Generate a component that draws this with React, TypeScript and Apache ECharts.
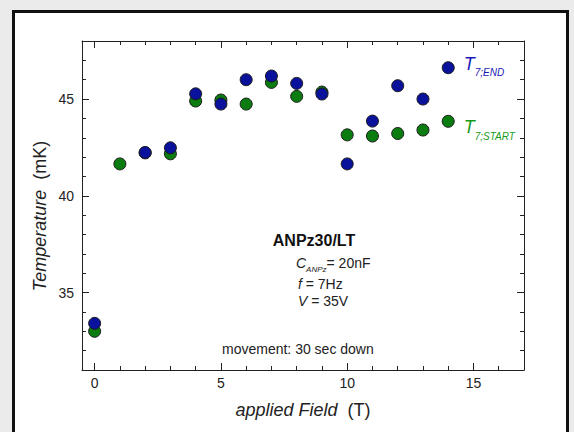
import React, { useEffect, useRef } from "react";
import * as echarts from "echarts";

// ---- data ----
const fieldsStart = [0, 1, 2, 3, 4, 5, 6, 7, 8, 9, 10, 11, 12, 13, 14];
const tStart = [33.0, 41.65, 42.22, 42.17, 44.9, 44.95, 44.74, 45.86, 45.14, 45.36, 43.15, 43.09, 43.22, 43.4, 43.85];
const fieldsEnd = [0, 2, 3, 4, 5, 6, 7, 8, 9, 10, 11, 12, 13, 14];
const tEnd = [33.41, 42.24, 42.48, 45.27, 44.74, 46.0, 46.19, 45.81, 45.26, 41.65, 43.86, 45.69, 45.0, 46.62];

const xMajor = [0, 5, 10, 15];
const xTickLabels = ["0", "5", "10", "15"];
const xMinor = [0, 1, 2, 3, 4, 5, 6, 7, 8, 9, 10, 11, 12, 13, 14, 15, 16];
const yMajor = [35, 40, 45];
const yTickLabels = ["35", "40", "45"];
const yMinor = [32, 33, 34, 35, 36, 37, 38, 39, 40, 41, 42, 43, 44, 45, 46, 47];

const FONT = "Liberation Sans, Arial, sans-serif";
const BLUE = "#0a129c";
const GREEN = "#0b7d10";
const BLUE_TXT = "#1a1ab8";
const GREEN_TXT = "#169a1a";
const AX = "#222";

function xAxisDef(position: string, ticks: number[], len: number, showLine: boolean, labels: boolean) {
  return {
    type: "value",
    position,
    min: -0.5,
    max: 17,
    axisLine: { show: showLine, onZero: false, lineStyle: { color: AX, width: 1 } },
    axisTick: { show: true, inside: true, length: len, customValues: ticks, lineStyle: { color: AX, width: 1 } },
    axisLabel: labels
      ? {
          show: true,
          customValues: xMajor,
          margin: 6,
          fontSize: 14,
          fontFamily: FONT,
          color: AX,
          formatter: (v: number) => xTickLabels[xMajor.indexOf(v)] ?? "",
        }
      : { show: false },
    splitLine: { show: false },
  };
}

function yAxisDef(position: string, ticks: number[], len: number, showLine: boolean, labels: boolean) {
  return {
    type: "value",
    position,
    min: 31,
    max: 48,
    axisLine: { show: showLine, onZero: false, lineStyle: { color: AX, width: 1 } },
    axisTick: { show: true, inside: true, length: len, customValues: ticks, lineStyle: { color: AX, width: 1 } },
    axisLabel: labels
      ? {
          show: true,
          customValues: yMajor,
          margin: 8,
          fontSize: 14,
          fontFamily: FONT,
          color: AX,
          formatter: (v: number) => yTickLabels[yMajor.indexOf(v)] ?? "",
        }
      : { show: false },
    splitLine: { show: false },
  };
}

function endLabel(main: string, sub: string, color: string, dy: number) {
  return {
    show: true,
    position: "right",
    distance: 9,
    offset: [0, dy],
    formatter: `{t|${main}}{s|${sub}}`,
    rich: {
      t: { fontSize: 18, fontStyle: "italic", fontFamily: FONT, color },
      s: { fontSize: 10, fontStyle: "italic", fontFamily: FONT, color, padding: [18, 0, 0, 0] },
    },
  };
}

export default function App() {
  const ref = useRef<HTMLDivElement>(null);
  useEffect(() => {
    if (!ref.current) return;
    const chart = echarts.init(ref.current, null, { renderer: "svg" });

    const startData: any[] = fieldsStart.map((f, i) => [f, tStart[i]]);
    const lastS = startData.length - 1;
    startData[lastS] = { value: startData[lastS], label: endLabel("T", "7;START", GREEN_TXT, 6) };
    const endData: any[] = fieldsEnd.map((f, i) => [f, tEnd[i]]);
    const lastE = endData.length - 1;
    endData[lastE] = { value: endData[lastE], label: endLabel("T", "7;END", BLUE_TXT, -4) };

    chart.setOption({
      animation: false,
      backgroundColor: "#ebebeb",
      grid: { left: 82, right: 50, top: 41, bottom: 62, containLabel: false },
      xAxis: [
        xAxisDef("bottom", xMajor, 7, true, true),
        xAxisDef("bottom", xMinor, 4, false, false),
        xAxisDef("top", xMajor, 7, true, false),
        xAxisDef("top", xMinor, 4, false, false),
      ],
      yAxis: [
        yAxisDef("left", yMajor, 7, true, true),
        yAxisDef("left", yMinor, 4, false, false),
        yAxisDef("right", yMajor, 7, true, false),
        yAxisDef("right", yMinor, 4, false, false),
      ],
      graphic: [
        {
          type: "rect",
          z: -100,
          silent: true,
          shape: { x: 13.5, y: 11.5, width: 554, height: 440 },
          style: { fill: "#ffffff", stroke: "#111", lineWidth: 3 },
        },
        {
          type: "text",
          x: 303,
          y: 410,
          style: {
            text: "{i|applied Field}  {n|(T)}",
            align: "center",
            verticalAlign: "middle",
            fontSize: 18,
            fontFamily: FONT,
            fill: AX,
            rich: {
              i: { fontSize: 18, fontStyle: "italic", fontFamily: FONT, fill: AX },
              n: { fontSize: 18, fontFamily: FONT, fill: AX },
            },
          },
        },
        {
          type: "text",
          x: 39.5,
          y: 216,
          rotation: Math.PI / 2,
          style: {
            text: "{i|Temperature}  {n|(mK)}",
            align: "center",
            verticalAlign: "middle",
            fontSize: 18,
            fontFamily: FONT,
            fill: AX,
            rich: {
              i: { fontSize: 18, fontStyle: "italic", fontFamily: FONT, fill: AX },
              n: { fontSize: 18, fontFamily: FONT, fill: AX },
            },
          },
        },
        {
          type: "text",
          x: 314,
          y: 240.5,
          style: { text: "ANPz30/LT", align: "center", verticalAlign: "middle", fontSize: 16, fontWeight: "bold", fontFamily: FONT, fill: "#111" },
        },
        {
          type: "text",
          x: 296,
          y: 263,
          style: {
            text: "{i|C}{s|ANPz}{n|= 20nF}",
            align: "left",
            verticalAlign: "middle",
            fontSize: 14,
            fontFamily: FONT,
            fill: AX,
            rich: {
              i: { fontSize: 14, fontStyle: "italic", fontFamily: FONT, fill: AX },
              s: { fontSize: 8, fontStyle: "italic", fontFamily: FONT, fill: AX, padding: [12, 0, 0, 0] },
              n: { fontSize: 14, fontFamily: FONT, fill: AX },
            },
          },
        },
        {
          type: "text",
          x: 298,
          y: 284,
          style: {
            text: "{i|f}{n| = 7Hz}",
            align: "left",
            verticalAlign: "middle",
            fontSize: 14,
            fontFamily: FONT,
            fill: AX,
            rich: {
              i: { fontSize: 14, fontStyle: "italic", fontFamily: FONT, fill: AX },
              n: { fontSize: 14, fontFamily: FONT, fill: AX },
            },
          },
        },
        {
          type: "text",
          x: 298,
          y: 301,
          style: {
            text: "{i|V}{n| = 35V}",
            align: "left",
            verticalAlign: "middle",
            fontSize: 14,
            fontFamily: FONT,
            fill: AX,
            rich: {
              i: { fontSize: 14, fontStyle: "italic", fontFamily: FONT, fill: AX },
              n: { fontSize: 14, fontFamily: FONT, fill: AX },
            },
          },
        },
        {
          type: "text",
          x: 222,
          y: 349,
          style: { text: "movement: 30 sec down", align: "left", verticalAlign: "middle", fontSize: 14, fontFamily: FONT, fill: AX },
        },
      ],
      series: [
        {
          name: "T7;START",
          type: "scatter",
          xAxisIndex: 0,
          yAxisIndex: 0,
          symbol: "circle",
          symbolSize: 12,
          itemStyle: { color: GREEN, borderColor: "#1a1a1a", borderWidth: 1, opacity: 1 },
          data: startData,
          z: 2,
        },
        {
          name: "T7;END",
          type: "scatter",
          xAxisIndex: 0,
          yAxisIndex: 0,
          symbol: "circle",
          symbolSize: 12,
          itemStyle: { color: BLUE, borderColor: "#1a1a1a", borderWidth: 1, opacity: 1 },
          data: endData,
          z: 3,
        },
      ],
    });
    return () => chart.dispose();
  }, []);
  return (
    <div
      ref={ref}
      style={{ position: "absolute", left: 0, top: 0, width: 574, height: 432 }}
    />
  );
}
